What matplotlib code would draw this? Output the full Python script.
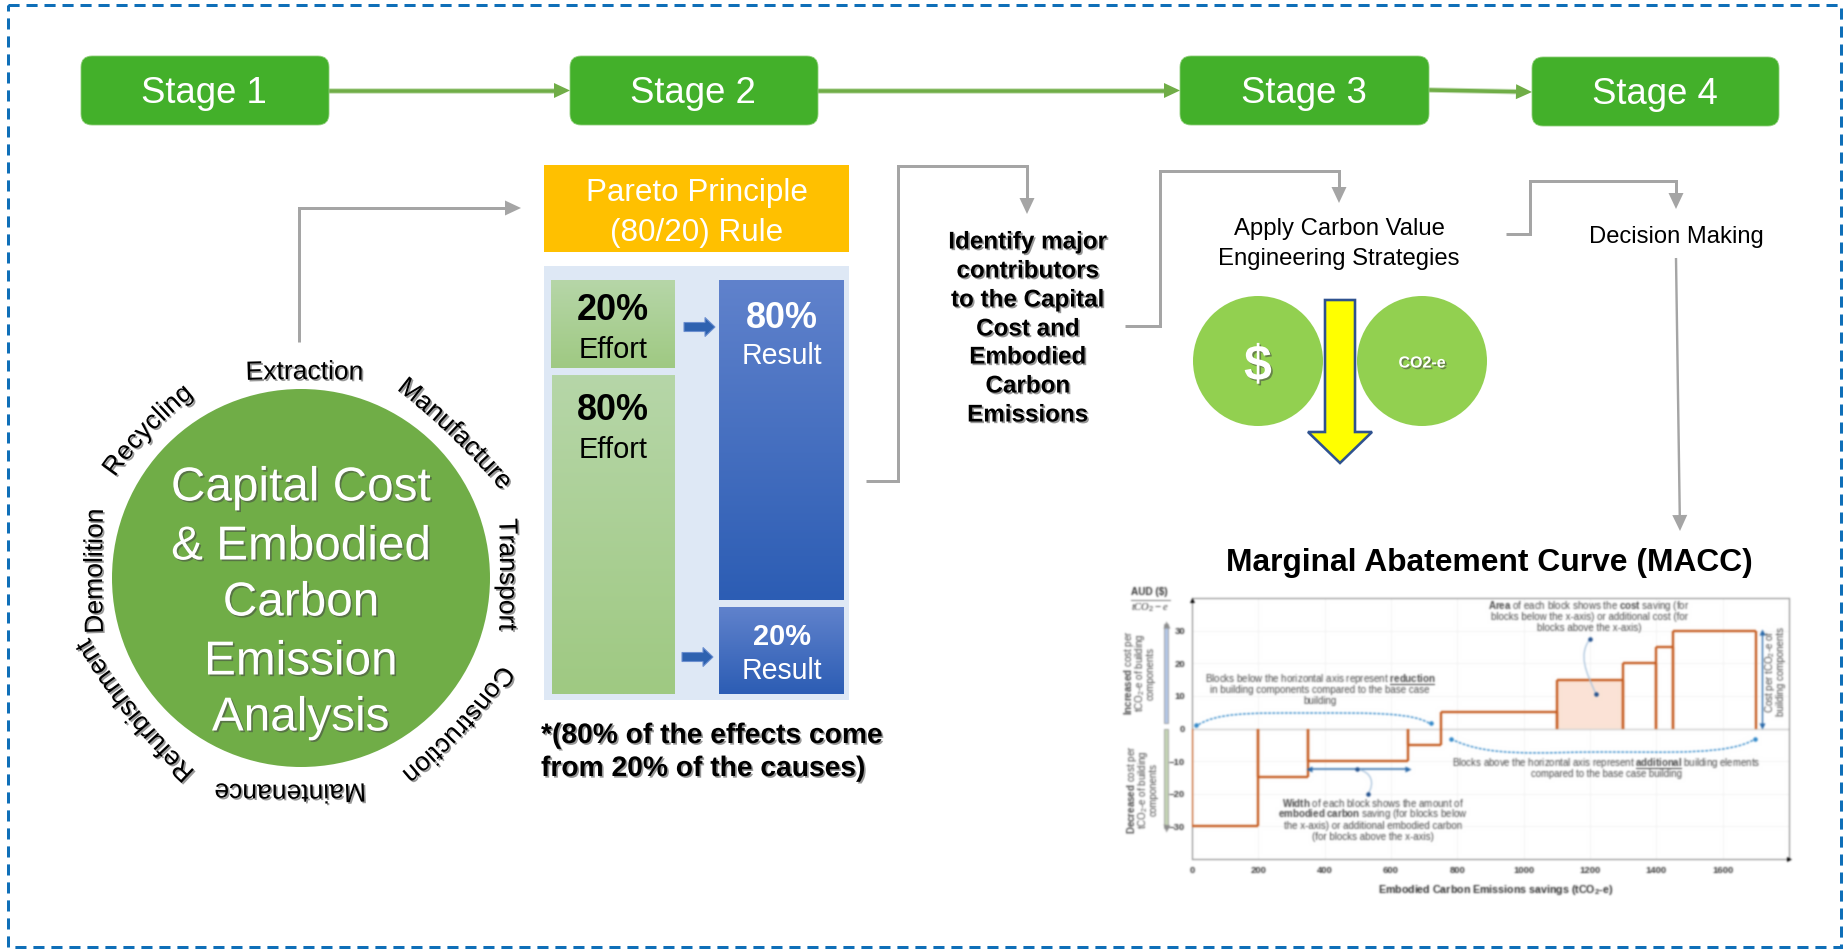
import numpy as np
import matplotlib
matplotlib.use("Agg")
import matplotlib.pyplot as plt
import matplotlib.patheffects as pe
from matplotlib.colors import LinearSegmentedColormap
from matplotlib.font_manager import FontProperties
from matplotlib.patches import Circle, Ellipse, FancyBboxPatch, PathPatch, Polygon, Rectangle
from matplotlib.path import Path
from matplotlib.textpath import text_to_path

plt.rcParams["font.family"] = ["Liberation Sans", "DejaVu Sans"]
plt.rcParams["mathtext.fontset"] = "custom"
plt.rcParams["mathtext.rm"] = "Liberation Sans"
plt.rcParams["mathtext.bf"] = "Liberation Sans:bold"
plt.rcParams["mathtext.it"] = "Liberation Serif:italic"
plt.rcParams["mathtext.default"] = "regular"

# Workflow content
stage_names = ["Stage 1", "Stage 2", "Stage 3", "Stage 4"]
lifecycle_stages = ["Extraction", "Manufacture", "Transport", "Construction",
                    "Maintenance", "Refurbishment", "Demolition", "Recycling"]
circle_title = ["Capital Cost", "& Embodied", "Carbon", "Emission", "Analysis"]
contributor_note = ["Identify major", "contributors", "to the Capital", "Cost and",
                    "Embodied", "Carbon", "Emissions"]

# Marginal abatement curve: block widths (tCO2-e) and cost per tCO2-e
block_widths = [200, 150, 300, 100, 350, 200, 100, 50, 250]
block_costs = [-30, -15, -10, -5, 5, 15, 20, 25, 30]
macc_xticks = [0, 200, 400, 600, 800, 1000, 1200, 1400, 1600]
macc_yticks = [-30, -20, -10, 0, 10, 20, 30]

W, H = 1844, 951
fig = plt.figure(figsize=(W / 100, H / 100), dpi=100, facecolor="white")
canvas = fig.add_axes([0, 0, 1, 1])
canvas.set_axis_off()

PX = 0.72  # points per pixel at 100 dpi
GREY = "#A5A5A5"
ARROW_GREEN = "#70AD47"
shadow = [pe.withSimplePatchShadow(offset=(1.2, -1.2), shadow_rgbFace="#444444", alpha=0.55)]


def label(x, y, s, px, color="black", weight="normal", fx=None, ax=canvas, **kw):
    kw.setdefault("ha", "center")
    kw.setdefault("va", "center")
    t = ax.text(x, y, s, fontsize=px * PX, color=color, fontweight=weight,
                transform=canvas.transData, **kw)
    if fx:
        t.set_path_effects(fx)
    return t


def arrow_path(points, color=GREY, lw=3, head=(16, 15), halo=None):
    """Polyline in pixel coordinates ending in a solid triangular head."""
    pts = np.array(points, float)
    tip, prev = pts[-1], pts[-2]
    d = (tip - prev) / np.hypot(*(tip - prev))
    n = np.array([-d[1], d[0]])
    base = tip - d * head[0]
    shaft = np.vstack([pts[:-1], base])
    if halo:
        canvas.plot(shaft[:, 0], shaft[:, 1], color=halo, lw=(lw + 2) * PX,
                    solid_joinstyle="miter", solid_capstyle="butt", zorder=2)
    canvas.plot(shaft[:, 0], shaft[:, 1], color=color, lw=lw * PX,
                solid_joinstyle="miter", solid_capstyle="butt", zorder=2)
    canvas.add_patch(Polygon([tip, base + n * head[1] / 2, base - n * head[1] / 2],
                             closed=True, fc=color, ec="none", zorder=2))


def gradient_box(x0, y0, x1, y1, top, bottom):
    cmap = LinearSegmentedColormap.from_list("fade", [top, bottom])
    canvas.imshow(np.linspace(0, 1, 256)[:, None], cmap=cmap, aspect="auto",
                  extent=(x0, x1, y1, y0), zorder=2, interpolation="bilinear")


def text_on_arc(s, theta_deg, facing_deg, radius, bend, cx, cy, px):
    """Set a word letter by letter on a gentle arc of radius `bend`. Its middle sits
    `radius` from (cx, cy) at `theta_deg` clockwise from twelve o'clock, and the word
    is turned to face `facing_deg`."""
    fp = FontProperties(family="Liberation Sans", size=px * PX)
    adv = lambda part: text_to_path.get_text_width_height_descent(part, fp, False)[0] / PX
    total = adv(s)
    th = np.radians(theta_deg)
    face = np.radians(facing_deg)
    outward = np.array([np.sin(face), -np.cos(face)])
    tangent = np.array([np.cos(face), np.sin(face)])
    mid = np.array([cx + radius * np.sin(th), cy - radius * np.cos(th)])
    for i, ch in enumerate(s):
        phi = (adv(s[:i]) - total / 2) / bend
        pos = mid + bend * (np.sin(phi) * tangent - (1 - np.cos(phi)) * outward)
        label(pos[0], pos[1], ch, px, ha="left", va="baseline",
              rotation=-np.degrees(face + phi), rotation_mode="anchor", fx=shadow, zorder=4)


def soften(image, dpi, sigma=0.9):
    """Gaussian softening of an RGBA layer, done on premultiplied colour."""
    pad = 4
    img = np.pad(image, ((pad, pad), (pad, pad), (0, 0)))
    alpha = img[..., 3:4]
    layers = np.dstack([img[..., :3] * alpha, alpha])
    xs = np.arange(-pad, pad + 1)
    kernel = np.exp(-xs ** 2 / (2 * sigma ** 2))
    kernel /= kernel.sum()
    for axis in (0, 1):
        layers = np.apply_along_axis(lambda v: np.convolve(v, kernel, mode="same"), axis, layers)
    a = np.clip(layers[..., 3:4], 1e-4, 1)
    rgb = np.clip(layers[..., :3] / a, 0, 1)
    return np.dstack([rgb, layers[..., 3:4]]), -pad, -pad


# ---- Frame ----
canvas.add_patch(Rectangle((8, 4.5), 1833, 942.5, fill=False, ec="#0F6FB8", lw=3 * PX,
                           linestyle=(0, (3.7, 2.3)), capstyle="butt", zorder=1))

# ---- Stage boxes and connecting arrows ----
stage_boxes = [(81, 56, 329, 125), (570, 56, 818, 125), (1180, 56, 1429, 125), (1532, 57, 1779, 126)]
for name, (x0, y0, x1, y1) in zip(stage_names, stage_boxes):
    canvas.add_patch(FancyBboxPatch((x0, y0), x1 - x0, y1 - y0,
                                    boxstyle="round,pad=0,rounding_size=11",
                                    fc="#43B02A", ec="#8FCF7A", lw=0.6, zorder=3))
    label((x0 + x1) / 2 - 1, (y0 + y1) / 2 + 3, name, 36.5, color="white", zorder=4)

arrow_path([(329, 90.5), (570, 90.5)], ARROW_GREEN, 3.5, halo="#C5DEB5")
arrow_path([(818, 90.5), (1180, 90.5)], ARROW_GREEN, 3.5, halo="#C5DEB5")
arrow_path([(1429, 90), (1532, 92)], ARROW_GREEN, 3.5, halo="#C5DEB5")

# ---- Life-cycle circle ----
cx, cy = 301, 578
canvas.add_patch(Circle((cx, cy), 189, fc="#70AD47", ec="none", zorder=2))
title_y = [488, 547, 603, 662, 718]
for line, y in zip(circle_title, title_y):
    label(cx, y, line, 47.7, color="white", fx=shadow, zorder=4)
ring_angles = [1, 47, 89, 133, 183, 231.5, 272, 314]
ring_facing = [0, 44, 90, 133, 180, 231.5, 270, 314]
ring_radii = [199, 206, 199, 211, 207, 209, 199, 208]
ring_bends = [2000, 700, 2000, 500, 2000, 600, 2000, 400]
for word, th, face, r, bend in zip(lifecycle_stages, ring_angles, ring_facing, ring_radii, ring_bends):
    text_on_arc(word, th, face, r, bend, cx, cy, 26.4)

arrow_path([(299, 342), (299, 208), (521, 208)])

# ---- Pareto panel ----
canvas.add_patch(Rectangle((544, 165), 305, 87, fc="#FFC000", ec="none", zorder=2))
label(697, 193, "Pareto Principle", 31.4, color="white", zorder=4)
label(697, 233, "(80/20) Rule", 31.4, color="white", zorder=4)
canvas.add_patch(Rectangle((544, 266), 305, 434, fc="#DEE8F5", ec="none", zorder=1.5))
gradient_box(551, 280, 675, 368, "#B6D6A8", "#9FC982")
gradient_box(552, 375, 675, 694, "#B6D6A8", "#9FC982")
gradient_box(719, 280, 843, 600, "#6082CC", "#2C5DB4")
gradient_box(719, 607, 843, 694, "#6082CC", "#2C5DB4")
label(613, 310, "20%", 36, weight="bold", zorder=4)
label(613, 350, "Effort", 29, zorder=4)
label(613, 411, "80%", 36, weight="bold", zorder=4)
label(613, 450, "Effort", 29, zorder=4)
label(782, 319, "80%", 36, color="white", weight="bold", zorder=4)
label(782, 356, "Result", 28.5, color="white", zorder=4)
label(782, 637, "20%", 29, color="white", weight="bold", zorder=4)
label(782, 671, "Result", 28.5, color="white", zorder=4)
for x0, x1, y in [(684, 715, 327), (682, 713, 657)]:
    canvas.add_patch(Polygon([(x0, y - 4.5), (x1 - 10, y - 4.5), (x1 - 10, y - 9.5), (x1, y),
                              (x1 - 10, y + 9.5), (x1 - 10, y + 4.5), (x0, y + 4.5)],
                             closed=True, fc="#2E62B0", ec="#6C8FD0", lw=0.8, zorder=3))
label(541, 736, "*(80% of the effects come", 28.2, weight="bold", ha="left", fx=shadow, zorder=4)
label(541, 769, "from 20% of the causes)", 28.2, weight="bold", ha="left", fx=shadow, zorder=4)

# ---- Contributors note ----
arrow_path([(866, 481), (898, 481), (898, 166), (1027, 166), (1027, 214)])
note_y = [242, 271, 300, 329, 357, 386, 415]
for line, y in zip(contributor_note, note_y):
    label(1028, y, line, 24.2, weight="bold", fx=shadow, zorder=4)

# ---- Value engineering ----
arrow_path([(1125, 326), (1160, 326), (1160, 171), (1339, 171), (1339, 203)])
label(1339, 229, "Apply Carbon Value", 23.9, zorder=4)
label(1339, 259, "Engineering Strategies", 23.9, zorder=4)
canvas.add_patch(Ellipse((1258, 361), 130, 130, fc="#92D050", ec="none", zorder=2))
canvas.add_patch(Ellipse((1422, 361), 130, 130, fc="#92D050", ec="none", zorder=2))
label(1258, 367, "$", 50, color="white", weight="bold", parse_math=False, fx=shadow, zorder=4)
label(1422, 363, "CO2-e", 16, color="white", weight="bold", fx=shadow, zorder=4)
canvas.add_patch(Polygon([(1325, 300), (1355, 300), (1355, 432), (1372, 432), (1340, 463),
                          (1308, 432), (1325, 432)], closed=True, fc="#FFFF00", ec="#2F528F",
                         lw=2.6 * PX, joinstyle="miter", zorder=3))

# ---- Decision making ----
arrow_path([(1506, 234), (1530, 234), (1530, 181), (1676, 181), (1676, 209)])
label(1676, 237, "Decision Making", 23.8, zorder=4)
arrow_path([(1676, 258), (1680, 531)], lw=2.4)

label(1489, 563, "Marginal Abatement Curve (MACC)", 31.8, weight="bold", zorder=4)

canvas.set_xlim(0, W)
canvas.set_ylim(H, 0)

# ---- Marginal abatement curve ----
mx0, mx1, my0, my1 = 1192, 1789, 598, 859
macc = fig.add_axes([mx0 / W, 1 - my1 / H, (mx1 - mx0) / W, (my1 - my0) / H], zorder=5)
macc.set_facecolor("white")
macc.set_agg_filter(soften)

edges = np.concatenate([[0], np.cumsum(block_widths)])
ORANGE = "#C55A1E"
macc.fill_between(edges[5:7], 0, block_costs[5], color="#FBE3D6", lw=0, zorder=1)
macc.hlines(block_costs, edges[:-1], edges[1:], color=ORANGE, lw=2.3 * PX, zorder=3)
macc.vlines(edges[:-1], 0, block_costs, color=ORANGE, lw=2.3 * PX, zorder=3)
macc.vlines(edges[1:], 0, block_costs, color=ORANGE, lw=2.3 * PX, zorder=3)
macc.axhline(0, color="#CFCFCF", lw=1.4 * PX, zorder=2)

macc.set_xticks(macc_xticks)
macc.set_yticks(macc_yticks)
macc.grid(True, color="#F1F1F1", lw=0.6)
macc.set_axisbelow(True)
macc.tick_params(length=0, labelsize=9.5 * PX, labelcolor="#3A3A3A", pad=5)
for tick in macc.get_xticklabels() + macc.get_yticklabels():
    tick.set_fontweight("bold")
for side in macc.spines.values():
    side.set_color("#8C8C8C")
    side.set_linewidth(1.1 * PX)

TXT = "#4A4A4A"
BLUE = "#2E86C8"
DOT = "#1F4E8C"


def inset_text(x, y, s, px=9.8, color=TXT, **kw):
    return label(x, y, s, px, color=color, ax=macc, **kw)


def curve(points, color="#A9C3DC", lw=1.3, ls="-"):
    codes = [Path.MOVETO] + [Path.CURVE4] * (len(points) - 1)
    macc.add_patch(PathPatch(Path(points, codes), fc="none", ec=color, lw=lw * PX, ls=ls,
                             transform=canvas.transData, clip_on=False, zorder=4))


def marker(x, y, style="o", color=DOT, size=4.5):
    macc.plot([x], [y], marker=style, ms=size * PX, color=color, mec="none",
              transform=canvas.transData, clip_on=False, zorder=5)


# Axis unit and axis titles
inset_text(1149, 592, "AUD ($)", 10, color="#333333", weight="bold", parse_math=False)
macc.plot([1131, 1170], [600, 600], color="#777777", lw=0.7, transform=canvas.transData,
          clip_on=False)
inset_text(1150, 608, r"$\mathit{tCO}_2-\mathit{e}$", 10.5, color="#333333")
inset_text(1496, 890, "Embodied Carbon Emissions savings (tCO$_2$-e)", 10.6, color="#333333",
           weight="bold")

inset_text(1129, 673, r"$\mathbf{Increased}$ cost per", rotation=90)
inset_text(1140, 673, "tCO$_2$-e of building", rotation=90)
inset_text(1151, 673, "components", rotation=90)
inset_text(1132, 790, r"$\mathbf{Decreased}$ cost per", rotation=90)
inset_text(1143, 790, "tCO$_2$-e of building", rotation=90)
inset_text(1154, 790, "components", rotation=90)

# Direction bars next to the cost axis
for y0, y1, fill in [(624, 723, "#B4C7E7"), (729, 828, "#C5D5B5")]:
    macc.add_patch(Rectangle((1164, y0), 4, y1 - y0, fc=fill, ec="#8C8C8C", lw=0.5,
                             transform=canvas.transData, clip_on=False))
marker(1166, 624, "^", "#8C8C8C", 7)
marker(1166, 828, "v", "#8C8C8C", 7)

# Callouts
inset_text(1320, 679, r"Blocks below the horizontal axis represent $\mathbf{reduction}$")
inset_text(1320, 690, "in building components compared to the base case")
inset_text(1320, 701, "building")
macc.plot([1390, 1434], [684, 684], color="#333333", lw=0.7, transform=canvas.transData,
          clip_on=False)
curve([(1195, 727), (1215, 712), (1250, 713), (1310, 713), (1370, 713), (1415, 712), (1432, 725)],
      color=BLUE, lw=1.4, ls=(0, (2, 1)))
marker(1196, 725, "o", BLUE)
marker(1431, 723, "o", BLUE)

inset_text(1606, 763, r"Blocks above the horizontal axis represent $\mathbf{additional}$ building elements", 9.6)
inset_text(1606, 774, "compared to the base case building", 9.6)
macc.plot([1636, 1681], [768, 768], color="#333333", lw=0.7, transform=canvas.transData,
          clip_on=False)
curve([(1451, 739), (1490, 758), (1540, 752), (1603, 752), (1670, 752), (1730, 755), (1755, 739)],
      color=BLUE, lw=1.4, ls=(0, (2, 1)))
marker(1451, 739, "o", BLUE)
marker(1755, 739, "o", BLUE)

inset_text(1589, 606, r"$\mathbf{Area}$ of each block shows the $\mathbf{cost}$ saving (for")
inset_text(1589, 617, "blocks below the x-axis) or additional cost (for")
inset_text(1589, 628, "blocks above the x-axis)")
curve([(1590, 639), (1578, 655), (1586, 672), (1596, 694)])
marker(1590, 639)
marker(1596, 694)

inset_text(1373, 803, r"$\mathbf{Width}$ of each block shows the amount of")
inset_text(1373, 814, r"$\mathbf{embodied\ carbon}$ saving (for blocks below")
inset_text(1373, 826, "the x-axis) or additional embodied carbon")
inset_text(1373, 837, "(for blocks above the x-axis)")
macc.plot([1309, 1408], [769, 769], color="#2566A8", lw=1.5 * PX, transform=canvas.transData,
          clip_on=False, zorder=4)
marker(1309, 769, "<", "#2566A8", 6)
marker(1408, 769, ">", "#2566A8", 6)
marker(1357, 769)
curve([(1357, 769), (1372, 772), (1375, 783), (1368, 794)])
marker(1368, 794)

macc.plot([1762, 1762], [632, 726], color="#2566A8", lw=1.3 * PX, transform=canvas.transData,
          clip_on=False, zorder=4)
marker(1762, 632, "^", "#2566A8", 6)
marker(1762, 726, "v", "#2566A8", 6)
inset_text(1770, 672, "Cost per tCO$_2$-e of", rotation=90)
inset_text(1781, 672, "building components", rotation=90)

# Arrowheads on the two axes
marker(1192, 600, "^", "black", 5)
marker(1789, 859, ">", "black", 5)

macc.set_xlim(0, 1800)
macc.set_ylim(-40, 40)

fig.savefig("out.png", dpi=100, facecolor="white")
